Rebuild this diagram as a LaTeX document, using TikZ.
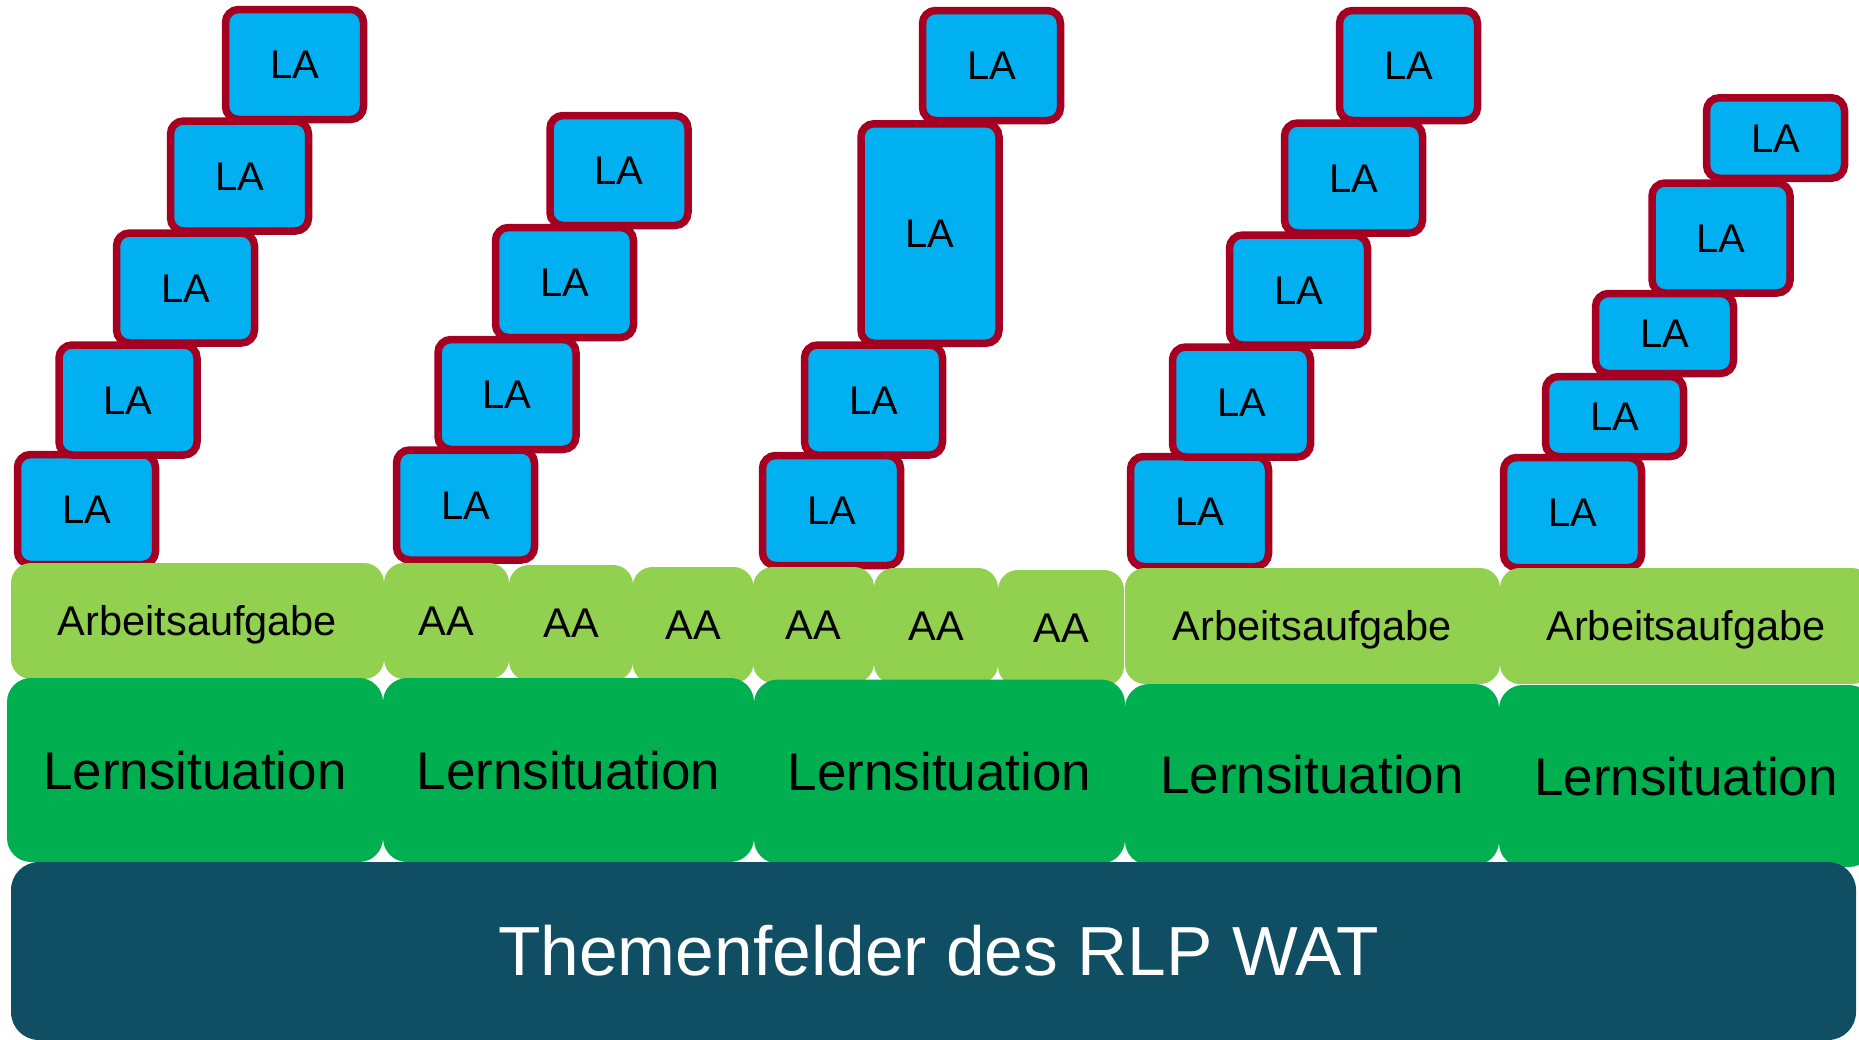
\documentclass[tikz,border=0pt]{standalone}
\usepackage{fontspec}
\setmainfont{Liberation Sans}
\definecolor{lafill}{RGB}{0,176,240}
\definecolor{laline}{RGB}{165,0,33}
\definecolor{aafill}{RGB}{146,208,80}
\definecolor{lsfill}{RGB}{0,176,80}
\definecolor{tffill}{RGB}{16,78,99}

\begin{document}
\begin{tikzpicture}[x=1pt,y=-1pt,
  la/.style={draw=laline,fill=lafill,line width=7.5pt,rounded corners=13pt,
    minimum width=138pt,minimum height=110pt,inner sep=0pt,
    text height=28.6pt,text depth=0pt,font=\fontsize{40}{40}\selectfont},
  aa/.style={fill=aafill,rounded corners=20pt,minimum height=116pt,inner sep=0pt,
    text height=29.7pt,text depth=0pt,font=\fontsize{41.5}{41.5}\selectfont},
  ls/.style={fill=lsfill,rounded corners=24pt,minimum height=184pt,inner sep=0pt,
    text height=38pt,text depth=0pt,font=\fontsize{53}{53}\selectfont}]
\clip (0,0) rectangle (1859,1039);
\useasboundingbox (0,0) rectangle (1859,1039);

% Lernaufgaben, each column from the bottom up
\node[la] (la11) at (86.5,509.5) {LA};
\node[la] (la12) at (128,400) {LA};
\node[la] (la13) at (185.5,288) {LA};
\node[la] (la14) at (239.5,176) {LA};
\node[la] (la15) at (294.5,64.5) {LA};

\node[la] (la21) at (465.5,505) {LA};
\node[la] (la22) at (507,394.5) {LA};
\node[la] (la23) at (564.5,282.5) {LA};
\node[la] (la24) at (619,170.5) {LA};

\node[la] (la31) at (831.5,510.5) {LA};
\node[la] (la32) at (873.5,400) {LA};
\node[la,minimum height=219.5pt] (la33) at (930,233.5) {LA};
\node[la] (la34) at (991.5,65.5) {LA};

\node[la] (la41) at (1199.5,511.5) {LA};
\node[la] (la42) at (1241.5,402) {LA};
\node[la] (la43) at (1298.5,290) {LA};
\node[la] (la44) at (1353.5,178) {LA};
\node[la] (la45) at (1408.5,65.5) {LA};

\node[la] (la51) at (1572.5,512.5) {LA};
\node[la,minimum height=80pt] (la52) at (1614.5,416.5) {LA};
\node[la,minimum height=80pt] (la53) at (1664.5,333.5) {LA};
\node[la] (la54) at (1721,238) {LA};
\node[la,minimum height=80.5pt] (la55) at (1775.5,138) {LA};

% Arbeitsaufgaben
\node[aa,minimum width=373pt] (aa1) at (197.5,621) {Arbeitsaufgabe};
\node[aa,minimum width=125pt] (aa2) at (446.5,621) {AA};
\node[aa,minimum width=124pt] (aa3) at (571,623) {AA};
\node[aa,minimum width=121pt] (aa4) at (693,625) {AA};
\node[aa,minimum width=121pt] (aa5) at (813.5,625) {AA};
\node[aa,minimum width=124pt] (aa6) at (936,626) {AA};
\node[aa,minimum width=126pt] (aa7) at (1061,628) {AA};
\node[aa,minimum width=375pt] (aa8) at (1312.5,626) {Arbeitsaufgabe};
\node[aa,minimum width=372pt] (aa9) at (1686,626) {Arbeitsaufgabe};

% Lernsituationen
\node[ls,minimum width=376pt] (ls1) at (195,770) {Lernsituation};
\node[ls,minimum width=371pt] (ls2) at (568.5,770) {Lernsituation};
\node[ls,minimum width=371pt] (ls3) at (939.5,771.5) {Lernsituation};
\node[ls,minimum width=374pt,minimum height=181pt] (ls4) at (1312,774.5) {Lernsituation};
\node[ls,minimum width=374pt,minimum height=182pt] (ls5) at (1686,776) {Lernsituation};

% Themenfelder
\node[fill=tffill,rounded corners=28pt,minimum width=1845pt,minimum height=178pt,
  inner sep=0pt,text=white,text height=49.7pt,text depth=0pt,
  font=\fontsize{69.5}{69.5}\selectfont] (tf) at (933.5,951) {\hspace{10pt}Themenfelder des RLP WAT};
\end{tikzpicture}
\end{document}
